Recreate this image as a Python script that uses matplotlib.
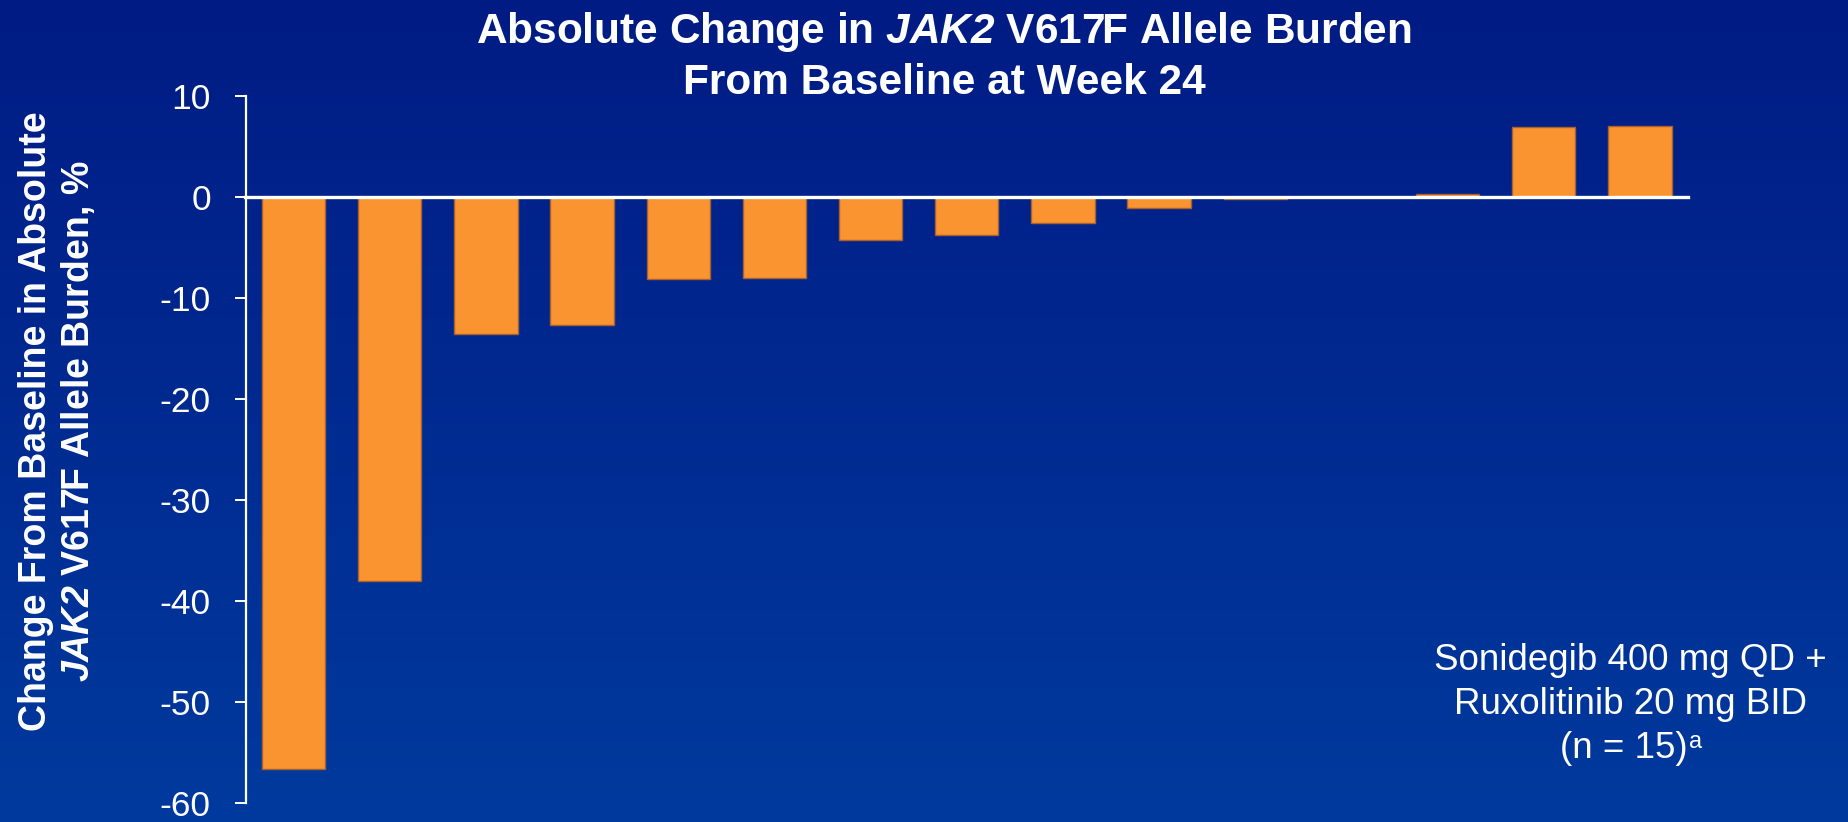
import numpy as np
import matplotlib
matplotlib.use("Agg")
import matplotlib.pyplot as plt

# Per-patient absolute change in JAK2 V617F allele burden (percentage points), sorted
patients = list(range(1, 16))
change = [-56.6, -38.0, -13.6, -12.7, -8.1, -8.0, -4.3, -3.8, -2.6, -1.1,
          -0.2, 0.0, 0.3, 6.9, 7.0]
yticks = [10, 0, -10, -20, -30, -40, -50, -60]

FONT = "Liberation Sans"
plt.rcParams["font.family"] = [FONT, "DejaVu Sans"]
# Math segments are used only for the gene name, set in bold italic (digits included)
plt.rcParams["mathtext.fontset"] = "custom"
plt.rcParams["mathtext.it"] = f"{FONT}:italic:bold"
plt.rcParams["mathtext.rm"] = f"{FONT}:italic:bold"
plt.rcParams["mathtext.bf"] = f"{FONT}:italic:bold"

W, H, DPI = 1848, 822, 100
fig = plt.figure(figsize=(W / DPI, H / DPI), dpi=DPI)

# Vertical navy-to-blue gradient backdrop
bg = fig.add_axes([0, 0, 1, 1], zorder=-10)
top = np.array([0x00, 0x1B, 0x84]) / 255
bot = np.array([0x00, 0x3A, 0x9E]) / 255
t = np.linspace(0, 1, 256)[:, None]
grad = (top[None, :] * (1 - t) + bot[None, :] * t)[:, None, :]
bg.imshow(grad, aspect="auto", extent=[0, 1, 0, 1], origin="upper")
bg.set_axis_off()

# Main axes
x0, x1 = 245.5, 1688
y_top, y_bot = 95.7, 803.3
ax = fig.add_axes([x0 / W, 1 - y_bot / H, (x1 - x0) / W, (y_bot - y_top) / H])
ax.patch.set_alpha(0)

xpos = np.arange(len(patients))
ax.bar(xpos, change, width=0.66, color="#F99431", edgecolor="#A8612E",
       linewidth=1.0, zorder=2)

ax.set_xlim(-0.5, len(patients) - 0.5)
ax.set_ylim(-60, 10)
ax.set_yticks(yticks)
ax.set_yticklabels([str(v) for v in yticks])
ax.set_xticks([])

for s in ["top", "right"]:
    ax.spines[s].set_visible(False)
ax.spines["left"].set_color("white")
ax.spines["left"].set_linewidth(1.6)
ax.spines["left"].set_zorder(5)
ax.spines["bottom"].set_position(("data", 0))
ax.spines["bottom"].set_color("white")
ax.spines["bottom"].set_linewidth(2.4)
ax.spines["bottom"].set_zorder(5)

ax.tick_params(axis="y", colors="white", labelsize=25.5, length=8, width=1.4,
               direction="out", pad=17)
for lab in ax.get_yticklabels():
    lab.set_fontfamily(FONT)

# Title, two centred lines
fig.text(944 / W, 1 - 43.5 / H,
         r"Absolute Change in $\mathit{JAK2}$ V617F Allele Burden",
         ha="center", va="baseline", color="white", fontsize=30.5,
         fontweight="bold")
fig.text(944 / W, 1 - 94 / H, "From Baseline at Week 24",
         ha="center", va="baseline", color="white", fontsize=30.5,
         fontweight="bold")

# Y-axis label, two rotated lines
yc = 1 - 421 / H
fig.text(46 / W, yc, "Change From Baseline in Absolute", rotation=90,
         rotation_mode="anchor", ha="center", va="baseline", color="white",
         fontsize=27, fontweight="bold")
fig.text(89 / W, yc, r"$\mathit{JAK2}$ V617F Allele Burden, %", rotation=90,
         rotation_mode="anchor", ha="center", va="baseline", color="white",
         fontsize=27, fontweight="bold")

# Treatment annotation
cx = 1630 / W
fig.text(cx, 1 - 670 / H, "Sonidegib 400 mg QD +", ha="center", va="baseline",
         color="white", fontsize=26.5)
fig.text(cx, 1 - 713.5 / H, "Ruxolitinib 20 mg BID", ha="center", va="baseline",
         color="white", fontsize=26.5)
n_txt = fig.text(cx - 6 / W, 1 - 758 / H, "(n = 15)", ha="center", va="baseline",
                 color="white", fontsize=26.5)
ax.annotate("a", xy=(1, 1), xycoords=n_txt, xytext=(1, 0),
            textcoords="offset points", ha="left", va="top",
            color="white", fontsize=17)

fig.savefig("out.png", dpi=DPI)
